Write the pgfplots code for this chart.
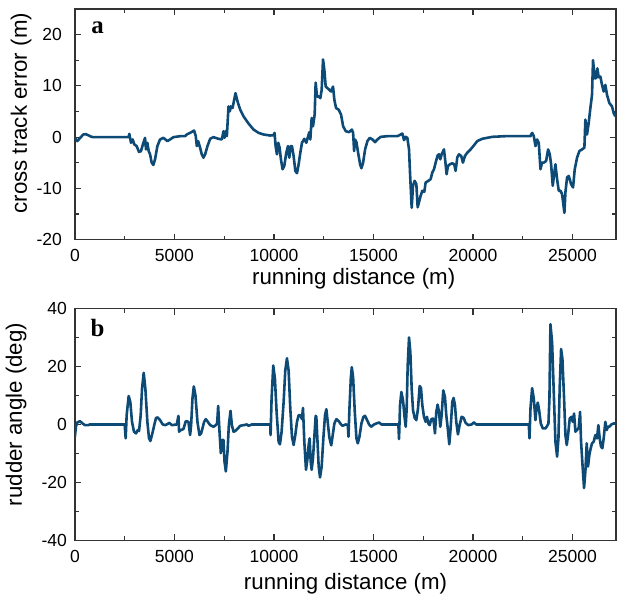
\documentclass[border=0pt]{standalone}
\usepackage{fontspec}
\setmainfont{Liberation Sans}
\newfontfamily\serifb{Liberation Serif}
\usepackage{pgfplots}
\pgfplotsset{compat=1.18}
\definecolor{trk}{RGB}{14,74,118}

\pgfplotstableread{
x y
0 -0.13
117 -0.77
420 0.52
554 0.58
839 0.06
923 0
2700 0
2735 0.65
2819 -1.10
2903 -0.45
2987 -1.42
3104 -1.74
3222 -2.90
3322 -2.71
3440 -1.10
3524 -0.13
3574 -2.39
3641 -1.10
3708 -2.71
3776 -3.35
3859 -4.97
3943 -5.42
4027 -4.32
4145 -1.74
4279 -0.45
4447 -0.13
4648 -0.77
4782 -0.45
4950 0
5286 0.19
5537 0.19
5621 0.52
5789 0.84
5990 1.29
6074 0.19
6125 -1.74
6192 -0.77
6292 -2.06
6376 -3.35
6460 -4.00
6544 -3.35
6662 -1.74
6796 -0.32
6964 0
7215 -0.32
7383 -0.45
7467 1.16
7517 -0.13
7568 1.16
7635 0.19
7719 6.00
7786 5.03
7836 6.00
7920 5.68
8004 7.29
8071 8.58
8172 6.97
8306 5.35
8474 4.06
8726 2.65
8977 1.48
9229 0.84
9481 0.52
9816 0.32
9984 0.39
10034 0.84
10085 -1.74
10152 -3.35
10219 -1.10
10286 -2.06
10353 -4.32
10437 -6.26
10521 -5.61
10622 -3.03
10706 -1.74
10773 -4.00
10840 -1.74
10907 -1.74
10991 -3.68
11075 -6.58
11159 -7.03
11243 -5.29
11327 -3.03
11410 -1.10
11528 -0.32
11629 -1.10
11696 -0.13
11780 0.97
11830 -0.45
11897 3.74
11964 2.13
12048 4.39
12098 10.65
12166 7.94
12249 7.94
12333 7.61
12400 9.23
12468 15.16
12535 13.10
12602 9.87
12753 9.35
12870 8.90
12971 9.87
13038 7.29
13122 5.68
13256 5.35
13374 4.39
13478 2.13
13612 1.16
13779 0.97
13913 1.48
13980 0.84
14030 -2.71
14080 -0.45
14147 -0.97
14231 -3.03
14331 -5.29
14398 -6.06
14482 -4.97
14582 -2.39
14699 -0.77
14816 -0.13
14950 -0.45
15084 -0.97
15201 -0.45
15368 0.06
15702 0.19
16204 0.19
16338 0.45
16455 0.71
16538 -0.58
16622 0.06
16705 -0.13
16789 -2.39
16839 -6.90
16923 -13.77
16990 -9.48
17073 -8.52
17157 -9.16
17224 -13.68
17291 -12.71
17374 -11.42
17458 -10.45
17558 -10.65
17625 -8.84
17759 -8.52
17876 -8.19
17959 -6.90
18043 -6.26
18127 -4.97
18227 -3.55
18294 -3.35
18361 -4.32
18428 -3.35
18545 -2.39
18628 -5.29
18678 -7.23
18745 -5.61
18846 -5.29
18963 -5.10
19063 -5.29
19130 -6.58
19214 -3.97
19297 -3.35
19414 -3.68
19498 -4.97
19598 -3.68
19715 -3.03
19882 -2.39
20049 -1.61
20217 -0.77
20467 -0.32
20969 0.06
21638 0.19
22892 0.19
22975 0.84
23059 0.19
23143 -1.74
23226 -0.45
23310 -1.10
23394 -6.26
23477 -4.97
23561 -4.97
23678 -4.65
23778 -2.39
23862 -3.35
23929 -5.29
24012 -9.48
24079 -7.23
24146 -5.29
24230 -8.19
24313 -10.45
24397 -10.45
24480 -11.10
24597 -14.77
24648 -10.77
24731 -7.87
24815 -7.55
24932 -9.16
25032 -9.81
25116 -6.26
25233 -4.00
25350 -2.71
25484 -2.39
25601 -2.06
25651 3.42
25734 0.52
25818 2.77
25902 5.68
25985 8.26
26035 15.03
26119 11.48
26186 11.48
26253 13.42
26320 11.68
26404 11.81
26487 10.19
26571 8.90
26654 10.19
26738 8.26
26855 6.65
26989 6.00
27072 4.71
27155 4.06
}\crosstrack

\pgfplotstableread{
x y
0 -4.23
50 -0.80
117 0.69
252 1.14
386 0.34
503 -0.23
671 -0.23
755 0
2500 0
2551 -4.80
2601 3.20
2702 9.83
2785 7.77
2869 0.91
2970 -2.51
3071 -3.09
3155 -1.94
3222 -2.29
3306 3.20
3373 12.34
3457 17.83
3541 12.34
3641 0.91
3725 -4.80
3792 -5.71
3893 -3.09
3994 0
4077 2.29
4161 2.40
4279 1.49
4413 0
4531 -0.23
4648 0.11
4749 0.57
4866 -0.23
5118 0
5202 2.97
5235 -2.51
5319 -1.94
5454 -1.60
5571 1.14
5705 0.91
5789 -3.66
5840 -0.23
5907 8.91
5974 13.14
6057 10.06
6158 0.91
6259 -3.66
6343 -3.09
6410 -1.37
6494 0.91
6578 1.83
6678 0.91
6796 -0.23
6964 -0.80
7081 -0.23
7148 0.34
7199 6.40
7266 -2.51
7333 -9.94
7400 -5.37
7467 -5.37
7517 -12.80
7585 -16.23
7668 -9.37
7736 -0.23
7819 4.69
7887 -0.23
7971 -2.51
8054 -2.29
8189 -1.37
8306 -0.46
8474 -0.23
8642 0
8726 -0.46
8810 -0.23
8893 0
9816 0
9833 -3.66
9883 8.91
9967 20.34
10051 15.77
10135 4.34
10236 -5.94
10303 -6.86
10387 -2.51
10488 7.77
10571 18.63
10655 22.86
10739 18.63
10823 5.49
10907 -4.23
10991 -7.09
11075 -3.66
11159 0.91
11243 3.20
11327 3.20
11410 1.83
11461 5.71
11528 -5.94
11612 -15.66
11679 -12.23
11746 -7.09
11796 -4.80
11847 -12.80
11897 -15.66
11964 -11.66
12048 -2.51
12098 2.97
12132 2.63
12183 -4.80
12249 -14.51
12317 -18.29
12400 -14.51
12484 -4.80
12568 3.20
12635 5.26
12703 0.91
12787 -4.50
12880 -7.20
12960 -3.50
13038 0.34
13139 1.83
13256 1.14
13374 0
13445 -0.46
13612 0
13713 -0.23
13746 -4.23
13796 5.49
13863 15.77
13913 19.77
13980 16.34
14064 4.34
14147 -4.80
14214 -6.51
14298 -4.23
14398 0.34
14498 2.63
14582 2.97
14682 1.49
14783 0
14883 -0.80
15033 0
15150 0.34
15284 0.69
15401 0
16254 0
16287 -5.03
16338 6.63
16404 11.20
16488 8.34
16555 3.20
16622 -0.80
16672 5.49
16722 20.34
16789 30.06
16856 24.91
16923 12.34
16990 4.91
17073 2.29
17157 1.49
17241 5.49
17324 13.26
17391 12.57
17458 6.63
17541 2.63
17625 0.91
17692 2.63
17759 0.34
17826 -0.23
17909 1.83
17993 2.06
18043 0.34
18093 -3.09
18160 4.34
18227 6.86
18294 4.34
18361 -0.80
18428 3.20
18511 11.77
18595 9.49
18662 3.20
18745 -1.94
18812 -6.86
18879 -1.37
18963 7.77
19030 9.14
19097 6.63
19164 0.91
19247 -3.43
19331 -0.23
19431 2.63
19531 2.29
19632 0.57
19765 -0.23
19932 0
20049 0.69
20166 0
22808 0
22842 -4.80
22892 5.49
22975 12.57
23059 8.91
23143 1.49
23193 5.49
23260 7.54
23327 4.91
23410 0.34
23511 -1.37
23644 -1.37
23728 -0.57
23795 0.34
23845 8.91
23895 34.63
23979 28.34
24062 11.20
24146 -5.94
24230 -11.09
24297 -4.80
24364 13.49
24431 26.06
24497 22.63
24581 8.91
24648 -3.66
24715 -7.09
24782 -3.66
24865 2.06
24949 2.63
25016 0.91
25083 3.77
25150 -2.51
25233 -1.94
25317 -1.14
25384 4.34
25434 -5.94
25517 -15.09
25584 -21.94
25651 -16.23
25718 -6.51
25785 -14.51
25852 -10.51
25919 -8.23
25985 -6.51
26069 -5.94
26153 -3.66
26236 -4.80
26303 -0.23
26370 -4.80
26437 -7.66
26504 -8.23
26571 -4.80
26654 0.91
26721 -1.94
26788 -0.80
26855 -0.80
26956 0
27072 0.34
27155 0.34
}\rudder

\pgfplotsset{
  panel/.style={
    scale only axis,
    width=271bp,
    xmin=0, xmax=27200,
    scaled x ticks=false,
    scaled y ticks=false,
    xtick={0,5000,10000,15000,20000,25000},
    xticklabels={0,5000,10000,15000,20000,25000},
    minor x tick num=1,
    minor y tick num=1,
    tick align=inside,
    major tick length=3bp,
    minor tick length=2bp,
    axis line style={line width=0.75bp, black!80},
    every tick/.style={black!80, line width=0.6bp},
    tick label style={font=\fontsize{8.8}{10}\selectfont},
    xticklabel style={yshift=-1.5bp},
    label style={font=\fontsize{11.2}{13}\selectfont},
    xlabel={running distance (m)},
  },
  curve/.style={trk, line width=1.3bp, line join=round, no marks},
}

\begin{document}
\begin{tikzpicture}
\path[use as bounding box] (-37.5bp,-28.5bp) rectangle (271.4bp,270.5bp);

\begin{axis}[panel,
  at={(0bp,150.5bp)}, anchor=south west,
  height=115.5bp,
  ymin=-20, ymax=25,
  ytick={-20,-10,0,10,20},
  yticklabels={-20,-10,0,10,20},
  yticklabel style={xshift=-3bp},
  ylabel={cross track error (m)},
  ylabel style={at={(axis description cs:-0.0886,0.548)}, anchor=base},
  xlabel style={at={(axis description cs:0.515,-0.195)}, anchor=base},
]
\addplot[curve] table[x=x, y=y] {\crosstrack};
\node[font=\serifb\bfseries\fontsize{12.5}{14}\selectfont] at (rel axis cs:0.042,0.918) {a};
\end{axis}

\begin{axis}[panel,
  at={(0bp,0bp)}, anchor=south west,
  height=116bp,
  ymin=-40, ymax=40,
  ytick={-40,-20,0,20,40},
  yticklabels={-40,-20,0,20,40},
  yticklabel style={xshift=-0.5bp},
  ylabel={rudder angle (deg)},
  ylabel style={at={(axis description cs:-0.0978,0.543)}, anchor=base},
  xlabel style={at={(axis description cs:0.5,-0.211)}, anchor=base},
]
\addplot[curve] table[x=x, y=y] {\rudder};
\node[font=\serifb\bfseries\fontsize{12.5}{14}\selectfont] at (rel axis cs:0.042,0.918) {b};
\end{axis}
\end{tikzpicture}
\end{document}
